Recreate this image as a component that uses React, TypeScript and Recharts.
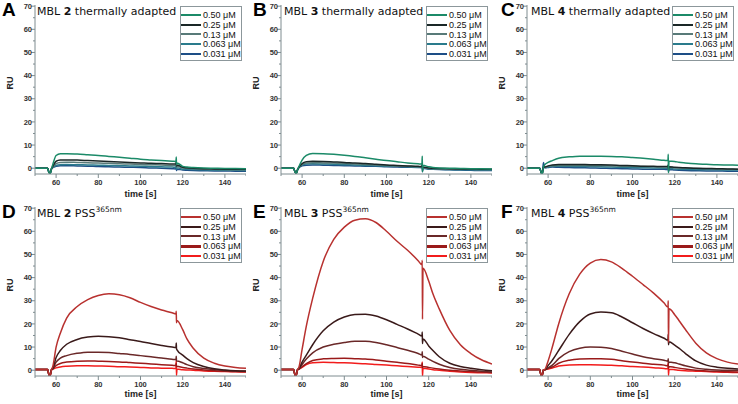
import React from 'react';
import { LineChart, Line, XAxis, YAxis } from 'recharts';

// shared time base [s]; 116.95 / 117.05 carry the injection-end spike (high, low)
const time = [50, 56, 56.6, 57.2, 57.8, 58.4, 60, 62, 65, 70, 75, 80, 85, 90, 95, 100, 105, 110, 115, 116.8, 116.95, 117.05, 117.3, 120, 122, 125, 130, 135, 140, 145, 150];
const concentrations = ['0.50 μM', '0.25 μM', '0.13 μM', '0.063 μM', '0.031 μM'];
const xTicks = [50, 60, 70, 80, 90, 100, 110, 120, 130, 140, 150];
const xLabels = [60, 80, 100, 120, 140];
const yTicks = [0, 5, 10, 15, 20, 25, 30, 35, 40, 45, 50, 55, 60, 65, 70];
const yLabels = [0, 10, 20, 30, 40, 50, 60, 70];

const thermalColors = ['#1b8a68', '#1a2727', '#587a78', '#2a7b8c', '#1d4e86'];
const pssColors = ['#b8312f', '#3a1a1a', '#6a2828', '#9a1a1a', '#f21c1c'];
const axisColor = '#7f8c90';

// A: MBL 2 thermally adapted
const a050 = [0, 0, -1.8, -2.2, -0.3, 1.5, 5.5, 6.3, 6.3, 6.1, 5.8, 5.5, 5.1, 4.7, 4.3, 3.9, 3.6, 3.3, 3.0, 2.9, 4.8, 1.5, 2.3, 0.8, 0.5, 0.3, 0.1, 0, -0.1, -0.1, -0.2];
const a025 = [0, 0, -1.8, -2.2, -0.3, 0.8, 3.0, 3.5, 3.6, 3.5, 3.3, 3.1, 2.9, 2.7, 2.5, 2.3, 2.1, 2.0, 1.8, 1.8, 3.0, 1.0, 1.4, 0.4, 0.2, 0, -0.2, -0.3, -0.4, -0.5, -0.5];
const a013 = [0, 0, -1.8, -2.2, -0.3, 0.5, 2.0, 2.5, 2.6, 2.5, 2.4, 2.2, 2.1, 1.9, 1.8, 1.6, 1.5, 1.4, 1.2, 1.2, 2.0, 0.5, 0.9, 0.1, 0, -0.2, -0.4, -0.5, -0.6, -0.7, -0.7];
const a0063 = [0, 0, -1.8, -2.2, -0.3, 0.3, 1.2, 1.5, 1.6, 1.5, 1.4, 1.3, 1.2, 1.1, 1.0, 0.9, 0.7, 0.6, 0.5, 0.4, 1.5, -0.5, 0.2, -0.4, -0.5, -0.6, -0.7, -0.8, -0.9, -0.9, -1.0];
const a0031 = [0, 0, -1.8, -2.2, -0.3, 0.2, 0.8, 1.1, 1.1, 1.0, 0.9, 0.7, 0.6, 0.5, 0.4, 0.3, 0.1, 0, -0.2, -0.3, 1.0, -1.0, -0.4, -0.8, -0.9, -1.0, -1.1, -1.2, -1.2, -1.3, -1.3];

// B: MBL 3 thermally adapted
const b050 = [0, 0, -1.5, -2.2, -0.8, 0.5, 3.5, 5.5, 6.4, 6.3, 6.0, 5.6, 5.1, 4.5, 3.9, 3.3, 2.8, 2.3, 1.9, 1.8, 5.2, -1.5, 1.3, 0.6, 0.3, 0.1, 0, -0.1, -0.2, -0.2, -0.3];
const b025 = [0, 0, -1.5, -2.2, -0.8, 0.3, 2.0, 2.8, 3.0, 2.9, 2.7, 2.5, 2.2, 2.0, 1.7, 1.4, 1.2, 1.0, 0.8, 0.7, 2.0, 0, 0.5, 0.1, 0, -0.1, -0.2, -0.3, -0.3, -0.4, -0.4];
const b013 = [0, 0, -1.5, -2.2, -0.8, 0.3, 1.6, 2.2, 2.4, 2.3, 2.2, 2.0, 1.8, 1.6, 1.4, 1.2, 1.0, 0.8, 0.6, 0.5, 1.5, -0.5, 0.3, -0.1, -0.2, -0.3, -0.4, -0.5, -0.5, -0.6, -0.6];
const b0063 = [0, 0, -1.5, -2.2, -0.8, 0.2, 1.3, 1.8, 1.9, 1.8, 1.7, 1.5, 1.4, 1.2, 1.1, 0.9, 0.8, 0.6, 0.4, 0.4, 1.0, -1.0, 0.2, -0.3, -0.4, -0.5, -0.6, -0.7, -0.7, -0.8, -0.8];
const b0031 = [0, 0, -1.5, -2.2, -0.8, 0.2, 1.0, 1.3, 1.4, 1.3, 1.2, 1.1, 1.0, 0.9, 0.8, 0.6, 0.5, 0.4, 0.3, 0.2, 0.5, -1.5, 0, -0.4, -0.5, -0.6, -0.7, -0.8, -0.9, -1.0, -1.0];

// C: MBL 4 thermally adapted
const c050 = [0, 0, -1.5, -2.5, 0.5, 1.5, 2.5, 3.3, 4.3, 4.9, 5.2, 5.2, 5.2, 5.1, 4.9, 4.6, 4.3, 3.9, 3.4, 3.3, 6.0, -2.0, 3.1, 2.9, 2.6, 2.3, 1.9, 1.7, 1.5, 1.4, 1.3];
const c025 = [0, 0, -1.5, -2.5, 0.5, 0.5, 1.0, 1.4, 1.6, 1.6, 1.6, 1.5, 1.5, 1.4, 1.2, 1.1, 0.9, 0.8, 0.7, 0.7, 1.5, -0.5, 0.6, 0.4, 0.3, 0.2, 0, -0.1, -0.2, -0.3, -0.4];
const c013 = [0, 0, -1.5, -2.5, 0.5, 0.4, 0.8, 1.1, 1.2, 1.2, 1.2, 1.1, 1.1, 1.0, 0.9, 0.8, 0.7, 0.6, 0.5, 0.5, 1.2, -0.8, 0.4, 0.2, 0.1, 0, -0.1, -0.2, -0.3, -0.4, -0.4];
const c0063 = [0, 0, -1.5, -2.5, 0.5, 0.3, 0.5, 0.8, 0.8, 0.8, 0.7, 0.7, 0.6, 0.5, 0.4, 0.3, 0.2, 0.1, 0, 0, 0.8, -1.0, -0.1, -0.3, -0.4, -0.5, -0.6, -0.7, -0.7, -0.8, -0.8];
const c0031 = [0, 0, -1.5, -2.5, 2.5, 0.2, 0.3, 0.5, 0.4, 0.3, 0.2, 0.1, 0, -0.1, -0.2, -0.3, -0.4, -0.5, -0.5, -0.6, 0.5, -1.5, -0.6, -0.8, -0.9, -1.0, -1.1, -1.2, -1.2, -1.3, -1.3];

// D: MBL 2 PSS 365nm
const d050 = [0.3, 0.3, -2.0, -2.2, 0.2, 1.5, 10, 16, 22.5, 27.5, 30.5, 32.3, 33.0, 32.6, 31.3, 29.3, 27.5, 26.0, 24.8, 24.3, 25.5, 20.5, 21.5, 17.5, 13.5, 9.5, 5.2, 3.0, 1.8, 1.2, 0.8];
const d025 = [0.3, 0.3, -2.0, -2.2, 0.2, 0.8, 5.5, 8.5, 11.2, 13.3, 14.3, 14.7, 14.5, 14.0, 13.2, 12.4, 11.5, 10.7, 10.0, 9.8, 11.8, 9.3, 8.8, 6.5, 5.0, 3.3, 1.6, 0.6, 0.1, -0.2, -0.3];
const d013 = [0.3, 0.3, -2.0, -2.2, 0.2, 0.6, 3.5, 5.2, 6.3, 7.3, 7.8, 7.8, 7.6, 7.2, 6.8, 6.3, 5.8, 5.3, 4.7, 4.6, 6.0, 4.0, 4.0, 3.2, 2.4, 1.5, 0.7, 0.2, -0.1, -0.3, -0.4];
const d0063 = [0.3, 0.3, -2.0, -2.2, 0.2, 0.5, 2.0, 2.9, 3.5, 3.9, 4.0, 3.9, 3.8, 3.6, 3.3, 3.0, 2.7, 2.4, 2.1, 2.0, 3.0, 1.5, 1.7, 1.2, 0.9, 0.5, 0.1, -0.2, -0.4, -0.6, -0.7];
const d0031 = [0.3, 0.3, -2.0, -2.2, 0.2, 0.4, 1.0, 1.4, 1.7, 1.9, 1.9, 1.8, 1.7, 1.5, 1.4, 1.2, 1.0, 0.9, 0.8, 0.7, 4.3, -2.2, 0.5, 0.2, 0.1, 0, -0.3, -0.5, -0.6, -0.7, -0.8];

// E: MBL 3 PSS 365nm
const e050 = [0.3, 0.3, -2.0, -2.2, 0.2, 1.0, 9, 19, 31, 47, 56.5, 61.8, 64.8, 65.4, 63.8, 60, 55.7, 51.8, 47.3, 45.5, 47.5, 22, 44, 38.5, 33, 26.5, 17.2, 11, 7.2, 4.5, 2.7];
const e025 = [0.3, 0.3, -2.0, -2.2, 0.2, 0.6, 3.5, 6.5, 11, 17, 20.8, 23, 24.1, 24.2, 23.4, 21.8, 19.8, 17.8, 15.6, 14.8, 16.5, 11.5, 13.5, 10.5, 8.5, 5.8, 3.0, 1.6, 0.8, 0.2, -0.2];
const e013 = [0.3, 0.3, -2.0, -2.2, 0.2, 0.5, 2.5, 4.8, 7.5, 10, 11.2, 12, 12.5, 12.5, 12.0, 11.0, 9.8, 8.6, 7.2, 6.6, 8.0, 5.5, 6.0, 4.8, 3.8, 2.6, 1.2, 0.4, 0, -0.4, -0.8];
const e0063 = [0.3, 0.3, -2.0, -2.2, 0.2, 0.4, 1.5, 2.8, 4.2, 4.9, 5.1, 5.2, 5.0, 4.8, 4.4, 3.9, 3.4, 2.9, 2.2, 2.0, 3.0, 1.2, 1.6, 1.2, 0.9, 0.5, 0, -0.3, -0.6, -0.8, -1.0];
const e0031 = [0.3, 0.3, -2.0, -2.2, 0.2, 0.4, 1.2, 2.4, 3.2, 3.4, 3.3, 3.2, 3.0, 2.8, 2.5, 2.2, 1.9, 1.6, 1.3, 1.2, 3.5, -2.5, 0.8, 0.5, 0.2, 0, -0.5, -0.8, -1.0, -1.1, -1.2];

// F: MBL 4 PSS 365nm
const f050 = [0.3, 0.3, -2.0, -2.2, 0.2, 0.3, 4, 10, 20, 33, 41.5, 46.3, 47.8, 46.8, 44, 40.6, 37, 33.3, 29, 27.2, 30, 12, 26.5, 24, 21.5, 17.7, 11.7, 7.5, 5, 3.5, 2.7];
const f025 = [0.3, 0.3, -2.0, -2.2, 0.2, 0.2, 2.0, 4.3, 8.5, 15.5, 21, 24.3, 25.1, 24.8, 23, 20.5, 18.0, 15.8, 13.8, 13.0, 15.5, 11, 12.3, 10.8, 9.5, 7.3, 4.0, 2.2, 1.3, 0.8, 0.5];
const f013 = [0.3, 0.3, -2.0, -2.2, 0.2, 0.2, 1.0, 2.2, 5.0, 8.0, 9.5, 10.0, 9.9, 9.4, 8.2, 7.0, 5.8, 5.0, 4.3, 3.9, 5.0, 3.0, 3.6, 3.2, 2.7, 1.9, 0.9, 0.4, 0.1, 0, 0];
const f0063 = [0.3, 0.3, -2.0, -2.2, 0.2, 0.2, 0.8, 1.4, 3.0, 4.3, 4.8, 4.9, 4.9, 4.7, 4.1, 3.5, 3.0, 2.6, 2.2, 1.9, 2.8, 1.0, 1.6, 1.2, 0.9, 0.5, 0, -0.3, -0.5, -0.7, -0.8];
const f0031 = [0.3, 0.3, -2.0, -2.2, 0.2, 0.2, 0.5, 0.9, 1.8, 2.3, 2.4, 2.4, 2.3, 2.1, 1.9, 1.6, 1.4, 1.1, 0.7, 0.6, 3.5, -2.2, 0.4, 0.2, 0, -0.2, -0.4, -0.6, -0.8, -0.9, -1.0];

const panels = [
  { letter: 'A', mbl: '2', pss: false, series: [a050, a025, a013, a0063, a0031], letterX: 2 },
  { letter: 'B', mbl: '3', pss: false, series: [b050, b025, b013, b0063, b0031], letterX: 7 },
  { letter: 'C', mbl: '4', pss: false, series: [c050, c025, c013, c0063, c0031], letterX: 9 },
  { letter: 'D', mbl: '2', pss: true, series: [d050, d025, d013, d0063, d0031], letterX: 2 },
  { letter: 'E', mbl: '3', pss: true, series: [e050, e025, e013, e0063, e0031], letterX: 7 },
  { letter: 'F', mbl: '4', pss: true, series: [f050, f025, f013, f0063, f0031], letterX: 9 },
];

const W = 246;
const H = 202;
const font = '"Liberation Sans", Arial, sans-serif';

const buildRows = (series: number[][]) =>
  time.map((t, i) => {
    const row: any = { t };
    series.forEach((s, k) => { row['s' + k] = s[i]; });
    return row;
  });

const XTick = (props: any) => {
  const { x, y, payload } = props;
  const major = xLabels.includes(payload.value);
  return (
    <g>
      <line x1={x} x2={x} y1={y} y2={y + (major ? 4 : 2)} stroke={axisColor} />
      {major && (
        <text x={x} y={y + 11} textAnchor="middle" fontSize={7.5} fontWeight="bold" fill="#333" fontFamily={font}>
          {payload.value}
        </text>
      )}
    </g>
  );
};

const YTick = (props: any) => {
  const { x, y, payload } = props;
  const major = yLabels.includes(payload.value);
  return (
    <g>
      <line x1={x - (major ? 4 : 2)} x2={x} y1={y} y2={y} stroke={axisColor} />
      {major && (
        <text x={x - 3} y={y + 2.6} textAnchor="end" fontSize={7.5} fontWeight="bold" fill="#333" fontFamily={font}>
          {payload.value}
        </text>
      )}
    </g>
  );
};

const Panel = ({ p, col, row }: any) => {
  const colors = p.pss ? pssColors : thermalColors;
  const data = buildRows(p.series);
  return (
    <div style={{ position: 'absolute', left: col * W, top: row * H, width: W, height: H }}>
      <LineChart width={W} height={H} data={data} margin={{ top: 5, right: 0, left: 0, bottom: 0 }}>
        <XAxis
          dataKey="t"
          type="number"
          domain={[50, 150]}
          ticks={xTicks}
          interval={0}
          allowDataOverflow
          tick={<XTick />}
          tickLine={false}
          tickSize={0}
          tickMargin={0}
          height={28}
          axisLine={{ stroke: axisColor }}
          label={{ value: 'time [s]', position: 'insideBottom', offset: row === 0 ? 5 : 7, fontSize: 9, fontWeight: 'bold', fill: '#222', fontFamily: font }}
        />
        <XAxis xAxisId="top" orientation="top" type="number" domain={[50, 150]} tick={false} tickLine={false} height={0} axisLine={{ stroke: axisColor }} />
        <YAxis
          type="number"
          domain={[-2.5, 70.5]}
          ticks={yTicks}
          interval={0}
          allowDataOverflow
          tick={<YTick />}
          tickLine={false}
          tickSize={0}
          tickMargin={0}
          width={35}
          axisLine={{ stroke: axisColor }}
          label={{ value: 'RU', angle: -90, position: 'insideLeft', offset: 10, fontSize: 9, fontWeight: 'bold', fill: '#222', fontFamily: font }}
        />
        <YAxis yAxisId="right" orientation="right" type="number" domain={[-2.5, 70.5]} tick={false} tickLine={false} width={0} axisLine={{ stroke: axisColor }} />
        {[4, 3, 2, 1, 0].map((k) => (
          <Line
            key={k}
            type="monotone"
            dataKey={'s' + k}
            stroke={colors[k]}
            strokeWidth={1.5}
            dot={false}
            isAnimationActive={false}
          />
        ))}
      </LineChart>
      <div style={{ position: 'absolute', left: p.letterX, top: 0, width: 14, font: 'bold 19px ' + font, lineHeight: '19px', color: '#000' }}>
        {p.letter}
      </div>
      <div style={{ position: 'absolute', left: 37 + col, top: 5, font: '11px "DejaVu Sans", sans-serif', lineHeight: '13px', color: '#111', whiteSpace: 'nowrap' }}>
        MBL <b>{p.mbl}</b> {p.pss ? (
          <span>PSS<sup style={{ fontSize: 7.5, lineHeight: 0 }}>365nm</sup></span>
        ) : 'thermally adapted'}
      </div>
      <div style={{ position: 'absolute', left: 180, top: 6, width: 62, height: 55, border: '1px solid #8c979b', background: '#fff', paddingTop: 3, boxSizing: 'border-box' }}>
        {concentrations.map((c, k) => (
          <div key={c} style={{ display: 'flex', alignItems: 'center', height: 9.8 }}>
            <div style={{ width: 20, height: k === 3 && p.pss ? 2.5 : 2, background: colors[k], marginRight: 2 }} />
            <span style={{ font: '9px ' + font, color: '#111', whiteSpace: 'nowrap' }}>{c}</span>
          </div>
        ))}
      </div>
    </div>
  );
}

export default function App() {
  return (
    <div style={{ position: 'absolute', left: 0, top: 0, width: 738, height: 404, background: '#fff', overflow: 'hidden' }}>
      {panels.map((p, i) => (
        <Panel key={p.letter} p={p} col={i % 3} row={Math.floor(i / 3)} />
      ))}
    </div>
  );
}
